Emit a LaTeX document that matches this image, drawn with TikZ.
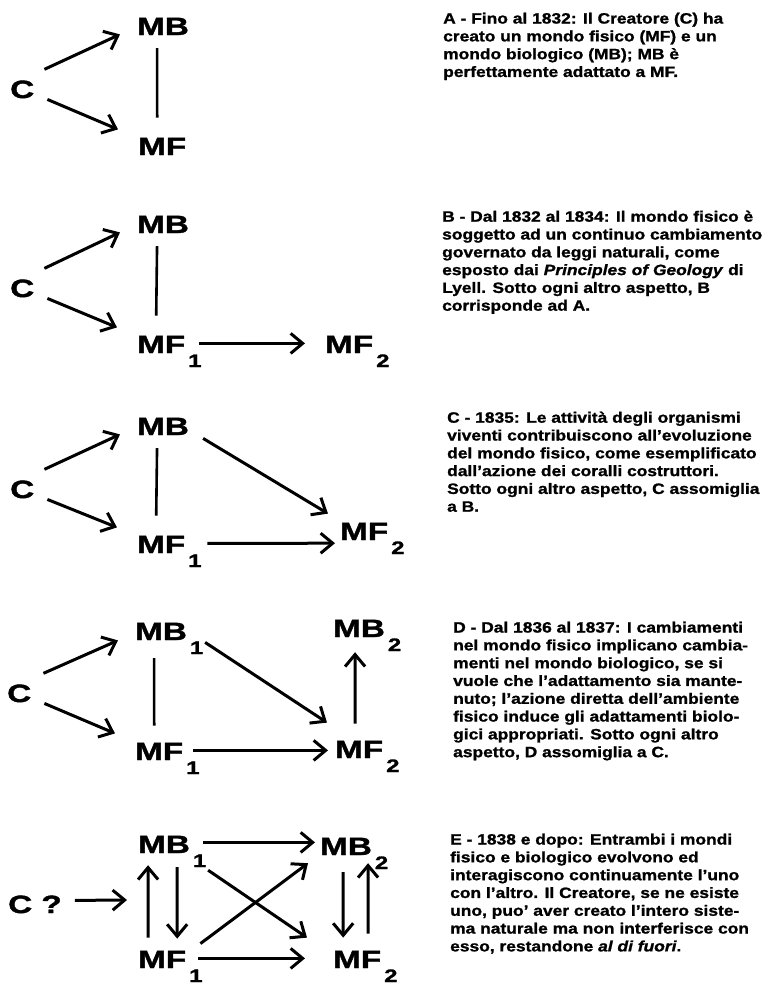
\documentclass[tikz,border=0pt]{standalone}
\usepackage{fontspec}
\setmainfont{Liberation Sans}[FakeStretch=1.16,FakeBold=1.2]
\newfontfamily\labfont{Liberation Sans}[FakeStretch=1.33,FakeBold=1.5]
\usetikzlibrary{arrows.meta}
\newcommand{\sub}[1]{\smash{\rlap{\hspace{3pt}\raisebox{-14pt}{\fontsize{18}{18}\selectfont #1}}}}

\begin{document}
\begin{tikzpicture}[>={Straight Barb[length=12pt,width=20pt]}, x=1pt, y=-1pt,
    lab/.style={font=\labfont\bfseries\fontsize{25}{25}\selectfont, inner sep=0pt, anchor=base west},
    txt/.style={font=\bfseries\fontsize{15}{17.8}\selectfont, align=left, inner sep=0pt, anchor=north west},
    arr/.style={->, line width=3pt},
    ln/.style={line width=2.6pt}]
    \useasboundingbox (0,0) rectangle (766,985);

    % A
    \node[lab] (Ac) at (10,98) {C};
    \node[lab] (Amb) at (137,35) {MB};
    \node[lab] (Amf) at (138,155) {MF};
    \draw[arr] ([shift={(10,-11)}]Ac.north east) -- ([shift={(-17,8)}]Amb.west);
    \draw[arr] ([shift={(13,1)}]Ac.south east) -- ([shift={(-20,-17)}]Amf.west);
    \draw[ln] ([shift={(-6,13)}]Amb.south) -- ([shift={(-5,-20)}]Amf.north);
    \node[txt] (Atxt) at (443,12.5) {A - Fino al 1832: Il Creatore (C) ha\\
        creato un mondo fisico (MF) e un\\
        mondo biologico (MB); MB è\\
        perfettamente adattato a MF.};

    % B
    \node[lab] (Bc) at (10,297) {C};
    \node[lab] (Bmb) at (137,233) {MB};
    \node[lab] (Bmf1) at (137,353) {MF\sub{1}};
    \node[lab] (Bmf2) at (325,353) {MF\sub{2}};
    \draw[arr] ([shift={(10,-11)}]Bc.north east) -- ([shift={(-17,8)}]Bmb.west);
    \draw[arr] ([shift={(13,1)}]Bc.south east) -- ([shift={(-20,-17)}]Bmf1.west);
    \draw[ln] ([shift={(-6,13)}]Bmb.south) -- ([shift={(-5,-20)}]Bmf1.north);
    \draw[arr] ([shift={(14,-1)}]Bmf1.east) -- ([shift={(-20,-1)}]Bmf2.west);
    \node[txt] (Btxt) at (442,210.5) {B - Dal 1832 al 1834: Il mondo fisico è\\
        soggetto ad un continuo cambiamento\\
        governato da leggi naturali, come\\
        esposto dai \textit{Principles of Geology} di\\
        Lyell. Sotto ogni altro aspetto, B\\
        corrisponde ad A.};

    % C
    \node[lab] (Cc) at (10,498) {C};
    \node[lab] (Cmb) at (137,435) {MB};
    \node[lab] (Cmf1) at (137,553) {MF\sub{1}};
    \node[lab] (Cmf2) at (340,540) {MF\sub{2}};
    \draw[arr] ([shift={(10,-11)}]Cc.north east) -- ([shift={(-17,8)}]Cmb.west);
    \draw[arr] ([shift={(13,1)}]Cc.south east) -- ([shift={(-20,-17)}]Cmf1.west);
    \draw[ln] ([shift={(-6,13)}]Cmb.south) -- ([shift={(-5,-20)}]Cmf1.north);
    \draw[arr] ([shift={(14,12)}]Cmb.east) -- ([shift={(-12,-9)}]Cmf2.north west);
    \draw[arr] ([shift={(22,-1)}]Cmf1.east) -- ([shift={(-5,3)}]Cmf2.south west);
    \node[txt] (Ctxt) at (447,411.5) {C - 1835: Le attività degli organismi\\
        viventi contribuiscono all'evoluzione\\
        del mondo fisico, come esemplificato\\
        dall'azione dei coralli costruttori.\\
        Sotto ogni altro aspetto, C assomiglia\\
        a B.};

    % D
    \node[lab] (Dc) at (7,702) {C};
    \node[lab] (Dmb1) at (135,640) {MB\sub{1}};
    \node[lab] (Dmb2) at (333,637) {MB\sub{2}};
    \node[lab] (Dmf1) at (135,760) {MF\sub{1}};
    \node[lab] (Dmf2) at (335,758) {MF\sub{2}};
    \draw[arr] ([shift={(12,-11)}]Dc.north east) -- ([shift={(-17,9)}]Dmb1.west);
    \draw[arr] ([shift={(13,1)}]Dc.south east) -- ([shift={(-20,-18)}]Dmf1.west);
    \draw[ln] ([shift={(-7,18)}]Dmb1.south) -- ([shift={(-5,-17)}]Dmf1.north);
    \draw[arr] ([shift={(18,11)}]Dmb1.east) -- ([shift={(-8,-18)}]Dmf2.north west);
    \draw[arr] ([shift={(10,-1)}]Dmf1.east) -- ([shift={(-7,1)}]Dmf2.west);
    \draw[arr] ([shift={(-4,-17)}]Dmf2.north) -- ([shift={(-4,15)}]Dmb2.south);
    \node[txt] (Dtxt) at (453,621.5) {D - Dal 1836 al 1837: I cambiamenti\\
        nel mondo fisico implicano cambia-\\
        menti nel mondo biologico, se si\\
        vuole che l'adattamento sia mante-\\
        nuto; l'azione diretta dell'ambiente\\
        fisico induce gli adattamenti biolo-\\
        gici appropriati. Sotto ogni altro\\
        aspetto, D assomiglia a C.};

    % E
    \node[lab] (Ec) at (8,913) {C ?};
    \coordinate (Ein) at (127,900);
    \node[lab] (Emb1) at (138,853) {MB\sub{1}};
    \node[lab] (Emb2) at (320,855) {MB\sub{2}};
    \node[lab] (Emf1) at (138,968) {MF\sub{1}};
    \node[lab] (Emf2) at (333,968) {MF\sub{2}};
    \draw[arr] ([shift={(13,-4)}]Ec.east) -- (Ein);
    \draw[arr] ([shift={(-14,-13)}]Emf1.north) -- ([shift={(-16,12)}]Emb1.south);
    \draw[arr] ([shift={(13,14)}]Emb1.south) -- ([shift={(15,-12)}]Emf1.north);
    \draw[arr] ([shift={(13,-2)}]Emb1.east) -- ([shift={(-5,-4)}]Emb2.west);
    \draw[arr] ([shift={(18,17)}]Emb1.south east) -- ([shift={(-26,-13)}]Emf2.north west);
    \draw[arr] ([shift={(14,-7)}]Emf1.north east) -- ([shift={(-12,8)}]Emb2.south west);
    \draw[arr] ([shift={(12,-1)}]Emf1.east) -- ([shift={(-28,-1)}]Emf2.west);
    \draw[arr] ([shift={(-3,17)}]Emb2.south) -- ([shift={(-14,-13)}]Emf2.north);
    \draw[arr] ([shift={(11,-17)}]Emf2.north) -- ([shift={(22,8)}]Emb2.south);
    \node[txt] (Etxt) at (450,833.5) {E - 1838 e dopo: Entrambi i mondi\\
        fisico e biologico evolvono ed\\
        interagiscono continuamente l'uno\\
        con l'altro. Il Creatore, se ne esiste\\
        uno, puo' aver creato l'intero siste-\\
        ma naturale ma non interferisce con\\
        esso, restandone \textit{al di fuori}.};
\end{tikzpicture}
\end{document}
